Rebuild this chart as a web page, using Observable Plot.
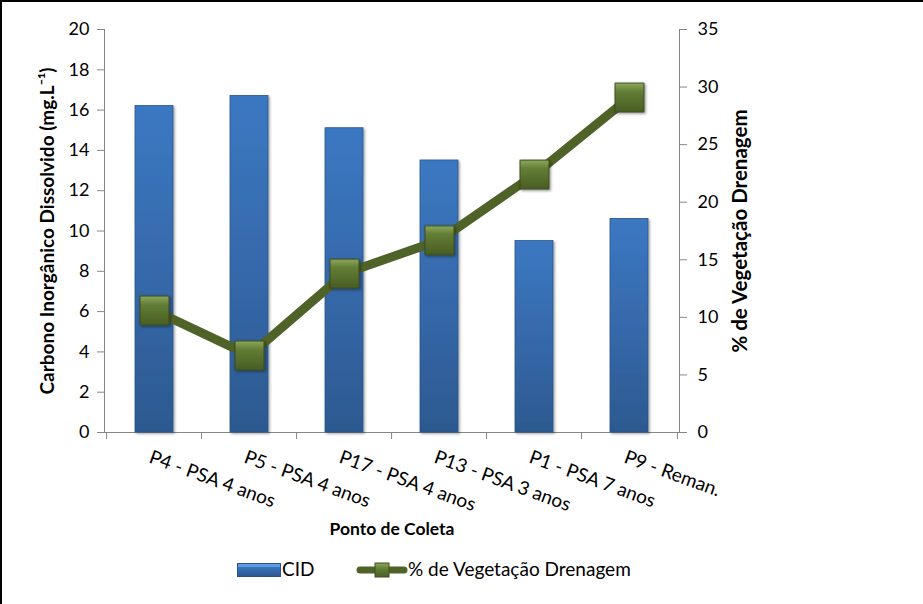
<!DOCTYPE html>
<html>
<head>
<meta charset="utf-8">
<script src="https://cdn.jsdelivr.net/npm/d3@7"></script>
<script src="https://cdn.jsdelivr.net/npm/@observablehq/plot@0.6"></script>
<style>
  html, body { margin: 0; padding: 0; background: #fff; }
  body { width: 923px; height: 604px; overflow: hidden; font-family: Lato, "Liberation Sans", sans-serif; position: relative; }
  #border { position: absolute; left: 0; top: 0; width: 921px; height: 602px; border-top: 2px solid #000; border-left: 2px solid #000; pointer-events: none; }
  #legend { position: relative; height: 54px; font-size: 19px; color: #000; }
  .item { position: absolute; }
</style>
</head>
<body>
<div id="chart"></div>
<div id="legend">
  <div class="item" style="left:237px; top:13px; width:42px; height:12px; background:linear-gradient(#5C9CE3 0 3px, #3A74BA 3px, #2C5A94); border:1px solid #2B5288;"></div>
  <div class="item" style="left:282px; top:7px;">CID</div>
  <svg class="item" style="left:356px; top:10px;" width="52" height="20">
    <defs><linearGradient id="lgMk" x1="0" y1="0" x2="0" y2="1"><stop offset="0" stop-color="#8BA95A"/><stop offset="0.45" stop-color="#5F7A33"/><stop offset="1" stop-color="#4B5F25"/></linearGradient></defs>
    <line x1="4" y1="10" x2="48" y2="10" stroke="#4F6228" stroke-width="7" stroke-linecap="round"/>
    <rect x="19" y="3" width="14" height="14" fill="url(#lgMk)" stroke="#3E4D20" stroke-width="1"/>
  </svg>
  <div class="item" style="left:408px; top:7px;">% de Vegetação Drenagem</div>
</div>
<div id="border"></div>
<script>
const categories = ["P4 - PSA 4 anos", "P5 - PSA 4 anos", "P17 - PSA 4 anos", "P13 - PSA 3 anos", "P1 - PSA 7 anos", "P9 - Reman."];
const cidValues = [16.2, 16.7, 15.1, 13.5, 9.5, 10.6];
const vegValues = [10.6, 6.7, 13.8, 16.7, 22.4, 29.1];
const leftTicks = [0, 2, 4, 6, 8, 10, 12, 14, 16, 18, 20];
const rightTicks = [0, 5, 10, 15, 20, 25, 30, 35];
const leftLabel = "Carbono Inorgânico Dissolvido (mg.L⁻¹)";
const rightLabel = "% de Vegetação Drenagem";
const xLabel = "Ponto de Coleta";

const leftMax = 20, rightMax = 35;
const k = leftMax / rightMax;
const data = categories.map((c, i) => ({cat: c, cid: cidValues[i], veg: vegValues[i]}));

const W = 923, H = 550;
const mL = 104, mR = 244, mT = 29, mB = H - 432;
const step = (W - mL - mR) / categories.length;
const FS = 18;

const chart = Plot.plot({
  width: W,
  height: H,
  marginLeft: mL,
  marginRight: mR,
  marginTop: mT,
  marginBottom: mB,
  style: {fontFamily: "Lato, 'Liberation Sans', sans-serif", fontSize: FS + "px", color: "#000", background: "transparent"},
  x: {type: "band", domain: categories, paddingInner: 0.6, paddingOuter: 0.3, axis: null},
  y: {domain: [0, leftMax], axis: null},
  marks: [
    Plot.axisY({anchor: "left", ticks: leftTicks, tickSize: 7, tickPadding: 8, stroke: "#868686", fill: "#000", fontSize: FS, label: null}),
    Plot.axisY({anchor: "right", ticks: rightTicks.map(v => v * k), tickFormat: d => String(Math.round(d / k)), tickSize: 7, tickPadding: 11, stroke: "#868686", fill: "#000", fontSize: FS, label: null}),
    Plot.axisX({ticks: categories, tickSize: 7, tickFormat: () => "", dx: -step / 2, stroke: "#868686", label: null}),
    Plot.axisX({ticks: categories.slice(-1), tickSize: 7, tickFormat: () => "", dx: step / 2, stroke: "#868686", label: null}),
    Plot.frame({anchor: "left", stroke: "#868686"}),
    Plot.frame({anchor: "right", stroke: "#868686"}),
    Plot.frame({anchor: "bottom", stroke: "#868686"}),
    Plot.barY(data, {x: "cat", y: "cid", fill: "url(#barGrad)", stroke: "#2C5487", strokeWidth: 0.8}),
    Plot.tickY(data, {x: "cat", y: "cid", stroke: "url(#bevelGrad)", strokeWidth: 6, dy: 3.5, inset: 1.5}),
    Plot.line(data, {x: "cat", y: d => d.veg * k, stroke: "#4F6228", strokeWidth: 9, strokeLinejoin: "round"}),
    Plot.dot(data, {x: "cat", y: d => d.veg * k, symbol: "square", r: 16.4, fill: "url(#mkGrad)", stroke: "#3B4A1D", strokeWidth: 1}),
    Plot.text(data, {x: "cat", text: "cat", frameAnchor: "bottom", rotate: 20, textAnchor: "start", lineAnchor: "top", dy: 17, dx: -2, fontSize: 19, fill: "#000"}),
    Plot.text([leftLabel], {text: d => d, frameAnchor: "left", textAnchor: "middle", dx: -57, rotate: -90, fontWeight: "bold", fontSize: 19, fill: "#000"}),
    Plot.text([rightLabel], {text: d => d, frameAnchor: "right", textAnchor: "middle", dx: 61, rotate: -90, fontWeight: "bold", fontSize: 20.5, fill: "#000"}),
    Plot.text([xLabel], {text: d => d, frameAnchor: "bottom", lineAnchor: "middle", dy: 97, fontWeight: "bold", fontSize: 17.5, fill: "#000"})
  ]
});

// gradient definitions (styling only)
const ns = "http://www.w3.org/2000/svg";
const defs = document.createElementNS(ns, "defs");
defs.innerHTML = `
  <linearGradient id="barGrad" x1="0" y1="0" x2="0" y2="1">
    <stop offset="0" stop-color="#3B78C2"/>
    <stop offset="0.5" stop-color="#3669AB"/>
    <stop offset="1" stop-color="#2C5990"/>
  </linearGradient>
  <linearGradient id="bevelGrad" x1="0" y1="0" x2="0" y2="1">
    <stop offset="0" stop-color="#6AAAF0"/>
    <stop offset="1" stop-color="#4A8AD6"/>
  </linearGradient>
  <linearGradient id="mkGrad" x1="0" y1="0" x2="0" y2="1">
    <stop offset="0" stop-color="#8CAA5C"/>
    <stop offset="0.3" stop-color="#627D35"/>
    <stop offset="1" stop-color="#4A5E24"/>
  </linearGradient>
  <filter id="shadow" x="-20%" y="-20%" width="150%" height="150%">
    <feDropShadow dx="1.5" dy="1.5" stdDeviation="1.2" flood-color="#000" flood-opacity="0.35"/>
  </filter>`;
chart.insertBefore(defs, chart.firstChild);
chart.querySelectorAll('g[aria-label="bar"], g[aria-label="dot"]').forEach(g => g.setAttribute("filter", "url(#shadow)"));
document.getElementById("chart").appendChild(chart);
</script>
</body>
</html>
